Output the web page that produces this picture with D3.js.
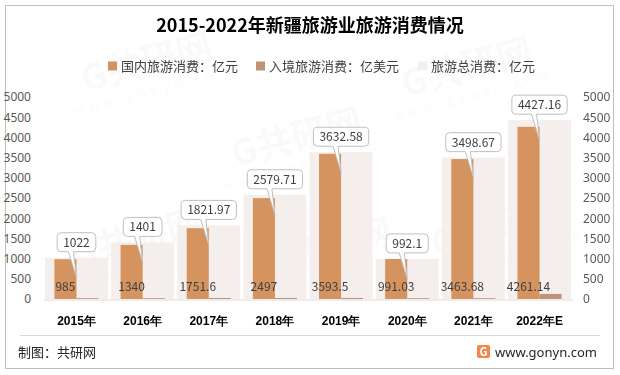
<!DOCTYPE html>
<html>
<head>
<meta charset="utf-8">
<script src="https://cdn.jsdelivr.net/npm/d3@7"></script>
<style>
  body { margin: 0; background: #fff; }
  svg { display: block; font-family: "Noto Sans CJK SC", "Noto Sans", sans-serif; }
</style>
</head>
<body>
<div id="chart"></div>
<script>
// Data
const years = ['2015年', '2016年', '2017年', '2018年', '2019年', '2020年', '2021年', '2022年E'];
const domestic = [985, 1340, 1751.6, 2497, 3593.5, 991.03, 3463.68, 4261.14];   // 亿元
const inbound = [20, 20, 25, 25, 25, 20, 20, 125];                              // 亿美元 (estimated)
const total = [1022, 1401, 1821.97, 2579.71, 3632.58, 992.1, 3498.67, 4427.16];   // 亿元
const yTicks = [0, 500, 1000, 1500, 2000, 2500, 3000, 3500, 4000, 4500, 5000];
const seriesNames = ['国内旅游消费：亿元', '入境旅游消费：亿美元', '旅游总消费：亿元'];
const colors = ['#d4935f', '#c09376', '#f4eeec'];

const W = 620, H = 375;
const svg = d3.select('#chart').append('svg').attr('width', W).attr('height', H);

// Frame
svg.append('rect')
  .attr('x', 5.5).attr('y', 5.5).attr('width', 608).attr('height', 363)
  .attr('fill', '#fff').attr('stroke', '#bfbfbf');

// Faint watermarks (kept well inside the frame)
const wm = svg.append('g').attr('fill', '#000').attr('opacity', 0.025);
[[150, 75], [300, 150], [470, 80], [140, 250], [330, 260], [500, 240]].forEach(([x, y]) => {
  const g = wm.append('g').attr('transform', `translate(${x},${y}) rotate(-15)`);
  g.append('text').attr('text-anchor', 'middle').attr('font-size', 36).attr('font-weight', 'bold').text('G共研网');
  g.append('text').attr('text-anchor', 'middle').attr('y', 20).attr('font-size', 13).attr('letter-spacing', 5).text('www.gonyn.com');
});

// Title
svg.append('text')
  .attr('x', 310).attr('y', 32)
  .attr('text-anchor', 'middle')
  .attr('font-size', 18).attr('font-weight', 'bold').attr('fill', '#000')
  .text('2015-2022年新疆旅游业旅游消费情况');

// Legend
const legendX = [108, 256, 418];
seriesNames.forEach((name, i) => {
  const lg = svg.append('g').attr('transform', `translate(${legendX[i]},66)`);
  lg.append('rect').attr('x', 0).attr('y', -4.5).attr('width', 9).attr('height', 9).attr('fill', colors[i]);
  lg.append('text').attr('x', 13).attr('y', 5).attr('font-size', 13).attr('fill', '#404040').text(name);
});

// Scales
const x = d3.scaleBand().domain(years).range([43.4, 572.6]).paddingInner(0).paddingOuter(0);
const y = d3.scaleLinear().domain([0, 5000]).range([299, 97]);
const bw = x.bandwidth();
const sub = d3.scaleBand().domain(['d', 'i']).range([0, bw]).paddingOuter(0.5).paddingInner(0);

// Axes labels
const leftAxis = svg.append('g').attr('transform', 'translate(31,0)')
  .call(d3.axisLeft(y).tickValues(yTicks).tickFormat(d3.format('d')).tickSize(0).tickPadding(0));
const rightAxis = svg.append('g').attr('transform', 'translate(583,0)')
  .call(d3.axisRight(y).tickValues(yTicks).tickFormat(d3.format('d')).tickSize(0).tickPadding(0));
[leftAxis, rightAxis].forEach(a => {
  a.select('.domain').remove();
  a.selectAll('text').attr('font-size', 12).attr('fill', '#595959')
    .attr('font-family', '"Noto Sans", "Noto Sans CJK SC", sans-serif');
});

// Total bars (secondary axis, wide, behind)
svg.append('g').selectAll('rect').data(years).join('rect')
  .attr('x', d => x(d) + bw * 0.025)
  .attr('width', bw * 0.95)
  .attr('y', (d, i) => y(total[i]))
  .attr('height', (d, i) => y(0) - y(total[i]))
  .attr('fill', colors[2]);

// Domestic bars
svg.append('g').selectAll('rect').data(years).join('rect')
  .attr('x', d => x(d) + sub('d'))
  .attr('width', sub.bandwidth())
  .attr('y', (d, i) => y(domestic[i]))
  .attr('height', (d, i) => y(0) - y(domestic[i]))
  .attr('fill', colors[0]);

// Inbound bars
svg.append('g').selectAll('rect').data(years).join('rect')
  .attr('x', d => x(d) + sub('i'))
  .attr('width', sub.bandwidth())
  .attr('y', (d, i) => y(inbound[i]))
  .attr('height', (d, i) => y(0) - y(inbound[i]))
  .attr('fill', colors[1]);

// X axis
const xAxis = svg.append('g').attr('transform', `translate(0,${y(0) + 0.5})`)
  .call(d3.axisBottom(x).tickSize(0).tickPadding(17));
xAxis.select('.domain').attr('stroke', '#d9d9d9');
xAxis.selectAll('text').attr('font-size', 12).attr('font-weight', 'bold').attr('fill', '#000');

// Domestic value labels at inside base
svg.append('g').selectAll('text').data(years).join('text')
  .attr('x', d => x(d) + sub('d') + sub.bandwidth() / 2)
  .attr('y', y(0) - 8)
  .attr('text-anchor', 'middle')
  .attr('font-size', 12).attr('fill', '#404040')
  .text((d, i) => domestic[i]);

// Callouts for total values
const callouts = svg.append('g');
years.forEach((d, i) => {
  const cx = x(d) + bw / 2;
  const top = y(total[i]);
  const label = String(total[i]);
  const g = callouts.append('g');
  const t = g.append('text')
    .attr('x', cx).attr('y', top - 11)
    .attr('text-anchor', 'middle')
    .attr('font-size', 12).attr('fill', '#404040')
    .text(label);
  const tw = t.node().getComputedTextLength();
  const bx = cx - tw / 2 - 6, bwid = tw + 12, by = top - 25, bh = 19;
  const r = 4;
  const tipX = cx, tipY = top + 20;
  const b1 = cx - 8, b2 = cx - 3;
  const path = `M${bx + r},${by} H${bx + bwid - r} Q${bx + bwid},${by} ${bx + bwid},${by + r}
    V${by + bh - r} Q${bx + bwid},${by + bh} ${bx + bwid - r},${by + bh}
    H${b2} L${tipX},${tipY} L${b1},${by + bh}
    H${bx + r} Q${bx},${by + bh} ${bx},${by + bh - r} V${by + r} Q${bx},${by} ${bx + r},${by} Z`;
  g.insert('path', 'text').attr('d', path).attr('fill', '#fff').attr('stroke', '#bfbfbf').attr('stroke-width', 1);
});

// Footer
svg.append('line').attr('x1', 20).attr('x2', 600).attr('y1', 335.5).attr('y2', 335.5).attr('stroke', '#d9d9d9');
svg.append('text').attr('x', 18).attr('y', 357).attr('font-size', 13).attr('fill', '#262626').text('制图：共研网');
const logo = svg.append('g').attr('transform', 'translate(477,345)');
logo.append('rect').attr('width', 13).attr('height', 13).attr('rx', 2).attr('fill', '#f08a4b');
logo.append('text').attr('x', 6.5).attr('y', 11).attr('text-anchor', 'middle').attr('font-size', 11)
  .attr('font-weight', 'bold').attr('fill', '#fff').text('G');
svg.append('text').attr('x', 495).attr('y', 357).attr('font-size', 13).attr('fill', '#262626')
  .attr('font-family', '"Noto Sans", sans-serif').text('www.gonyn.com');
</script>
</body>
</html>
